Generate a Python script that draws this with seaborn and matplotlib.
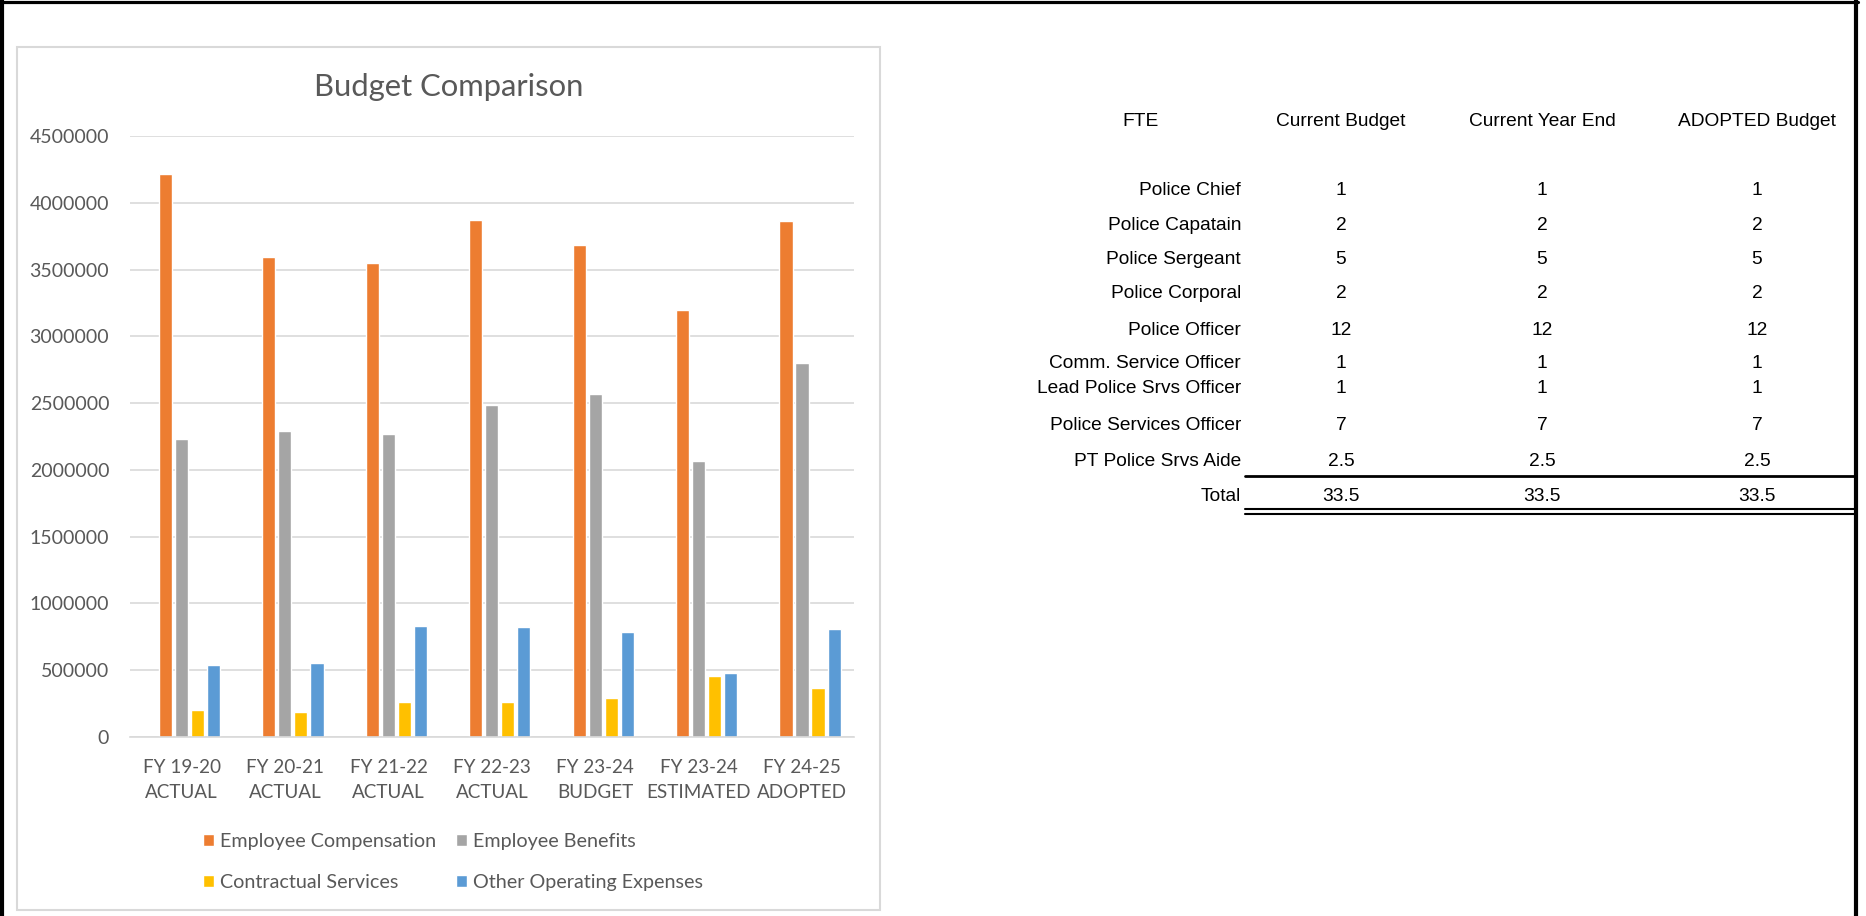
import numpy as np
import pandas as pd
import matplotlib
matplotlib.use('Agg')
import matplotlib.pyplot as plt
from matplotlib.lines import Line2D
from matplotlib.patches import Rectangle
import seaborn as sns

# chart data
periods = ['FY 19-20\nACTUAL', 'FY 20-21\nACTUAL', 'FY 21-22\nACTUAL', 'FY 22-23\nACTUAL',
           'FY 23-24\nBUDGET', 'FY 23-24\nESTIMATED', 'FY 24-25\nADOPTED']
series = ['Employee Compensation', 'Employee Benefits', 'Contractual Services', 'Other Operating Expenses']
emp_comp = [4218000, 3592000, 3548000, 3869000, 3686000, 3195000, 3860000]
emp_benefits = [2231000, 2290000, 2272000, 2489000, 2568000, 2064000, 2798000]
contractual = [205000, 189000, 265000, 265000, 293000, 460000, 369000]
other_opex = [536000, 551000, 829000, 825000, 788000, 482000, 810000]
colors = ['#ED7D31', '#A5A5A5', '#FFC000', '#5B9BD5']

# FTE table data
fte_header = ['FTE', 'Current Budget', 'Current Year End', 'ADOPTED Budget']
positions = ['Police Chief', 'Police Capatain', 'Police Sergeant', 'Police Corporal', 'Police Officer',
             'Comm. Service Officer', 'Lead Police Srvs Officer', 'Police Services Officer',
             'PT Police Srvs Aide', 'Total']
current_budget = ['1', '2', '5', '2', '12', '1', '1', '7', '2.5', '33.5']
current_year_end = ['1', '2', '5', '2', '12', '1', '1', '7', '2.5', '33.5']
adopted_budget = ['1', '2', '5', '2', '12', '1', '1', '7', '2.5', '33.5']

df = pd.DataFrame({
    'period': np.repeat(periods, len(series)),
    'series': series * len(periods),
    'amount': np.column_stack([emp_comp, emp_benefits, contractual, other_opex]).ravel(),
})

sns.set_style('white')
plt.rcParams['font.family'] = ['Lato', 'DejaVu Sans']
text_grey = '#595959'
grid_grey = '#D9D9D9'

W, H = 1866, 916
fig = plt.figure(figsize=(W / 100, H / 100), dpi=100)

def fx(px):
    return px / W

def fy(py):
    return 1 - py / H

ax = fig.add_axes([fx(130), fy(737), fx(854) - fx(130), fy(136) - fy(737)])
sns.barplot(data=df, x='period', y='amount', hue='series', hue_order=series,
            palette=colors, saturation=1, width=0.62, gap=0.18, errorbar=None, ax=ax)

ax.set_ylim(0, 4500000)
ax.set_yticks(np.arange(0, 4500001, 500000))
ax.set_yticklabels([str(v) for v in range(0, 4500001, 500000)])
ax.set_xlim(-0.575, 6.425)
ax.set_xticks(np.arange(len(periods)) - 0.076)
ax.set_xticklabels(periods, linespacing=1.55)
ax.set_xlabel('')
ax.set_ylabel('')
ax.yaxis.grid(True, color=grid_grey, linewidth=1.2)
ax.set_axisbelow(True)
for side in ['top', 'right', 'left']:
    ax.spines[side].set_visible(False)
ax.spines['bottom'].set_color(grid_grey)
ax.spines['bottom'].set_linewidth(1.2)
ax.tick_params(axis='y', length=0, pad=15, labelsize=14, labelcolor=text_grey)
ax.tick_params(axis='x', length=0, pad=16, labelsize=13.6, labelcolor=text_grey)

# legend filled row by row, as in the reference
handles, labels = ax.get_legend_handles_labels()
ax.get_legend().remove()
order = [0, 2, 1, 3]
fig.legend([handles[i] for i in order], [labels[i] for i in order], ncol=2, loc='center',
           bbox_to_anchor=(fx(453), fy(862)), frameon=False, fontsize=14.2,
           labelcolor=text_grey, handlelength=0.55, handleheight=0.55, handletextpad=0.3,
           columnspacing=1.0, labelspacing=1.23, borderpad=0)

fig.text(fx(449), fy(87), 'Budget Comparison', ha='center', va='center',
         fontsize=22.3, color=text_grey)

# chart frame
fig.patches.append(Rectangle((fx(17), fy(910)), fx(880) - fx(17), fy(47) - fy(910),
                             transform=fig.transFigure, fill=False,
                             edgecolor=grid_grey, linewidth=1.5))

# page border
fig.add_artist(Line2D([fx(2), fx(2)], [0, 1], color='black', lw=3))
fig.add_artist(Line2D([0, fx(1858)], [fy(1.5), fy(1.5)], color='black', lw=2.3))
fig.add_artist(Line2D([fx(1856), fx(1856)], [0, 1], color='black', lw=3))

# FTE table
tfont = ['Liberation Sans', 'DejaVu Sans']
col_x = [1140, 1341, 1542, 1757]
row_y = [190.7, 225.7, 259, 293.7, 330.7, 363.7, 388.3, 425.3, 462, 496.7]
for x, h in zip(col_x, fte_header):
    fig.text(fx(x), fy(121.7), h, ha='center', va='center', fontsize=13.8,
             family=tfont, color='black')
for i, name in enumerate(positions):
    fig.text(fx(1241), fy(row_y[i]), name, ha='right', va='center', fontsize=13.8,
             family=tfont, color='black')
    for x, col in zip(col_x[1:], [current_budget, current_year_end, adopted_budget]):
        fig.text(fx(x), fy(row_y[i]), col[i], ha='center', va='center', fontsize=13.8,
                 family=tfont, color='black')

fig.add_artist(Line2D([fx(1245), fx(1856)], [fy(475.7), fy(475.7)], color='black', lw=2))
fig.add_artist(Line2D([fx(1245), fx(1856)], [fy(509.3), fy(509.3)], color='black', lw=1.5))
fig.add_artist(Line2D([fx(1245), fx(1856)], [fy(514.3), fy(514.3)], color='black', lw=1.5))

fig.savefig('out.png', dpi=100, facecolor='white')
